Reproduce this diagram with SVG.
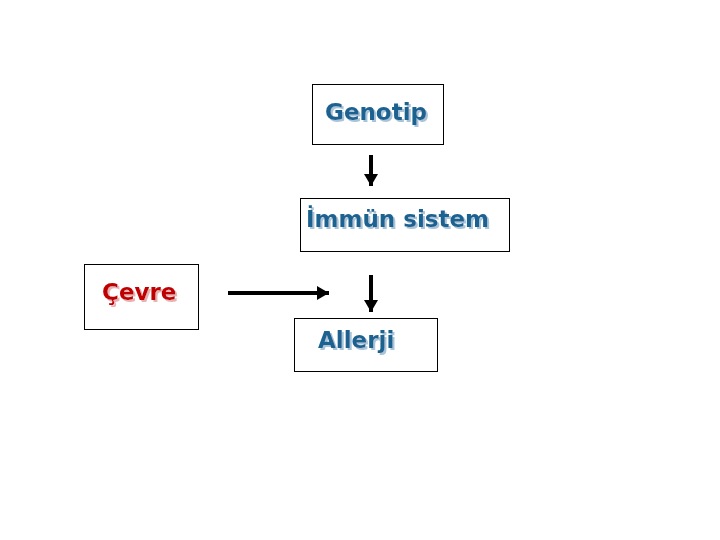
<svg xmlns="http://www.w3.org/2000/svg" width="720" height="540" viewBox="0 0 720 540">
<defs>
<style>
.box{fill:#fff;stroke:#000;stroke-width:1}
.t{font-family:"Comic Sans MS","DejaVu Sans",sans-serif;font-size:23px;font-weight:bold;fill:#1f6291;filter:url(#shb)}
.red{fill:#c00000;filter:url(#shr)}
.conn{stroke:#000;stroke-width:4;fill:none}
</style>
<filter id="shb" x="-10%" y="-30%" width="130%" height="170%">
<feDropShadow dx="2" dy="2" stdDeviation="0.6" flood-color="#a9c3d8" flood-opacity="1"/>
</filter>
<filter id="shr" x="-10%" y="-30%" width="130%" height="170%">
<feDropShadow dx="2" dy="2" stdDeviation="0.6" flood-color="#e6b3b3" flood-opacity="1"/>
</filter>
<marker id="ah" viewBox="0 0 12 14" refX="12" refY="7" markerWidth="3" markerHeight="3.5" orient="auto" markerUnits="strokeWidth">
<path d="M0,0 L12,7 L0,14 z" fill="#000"/>
</marker>
</defs>
<rect width="720" height="540" fill="#fff"/>
<g id="genotip">
<rect class="box" x="312.5" y="84.5" width="131" height="60"/>
<text class="t" x="325" y="120">Genotip</text>
</g>
<g id="immun">
<rect class="box" x="300.5" y="198.5" width="209" height="53"/>
<text class="t" x="306" y="227">İmmün sistem</text>
</g>
<g id="cevre">
<rect class="box" x="84.5" y="264.5" width="114" height="65"/>
<text class="t red" x="102" y="300">Çevre</text>
</g>
<g id="allerji">
<rect class="box" x="294.5" y="318.5" width="143" height="53"/>
<text class="t" x="318" y="348">Allerji</text>
</g>
<g id="connectors">
<line class="conn" x1="371" y1="155" x2="371" y2="186" marker-end="url(#ah)"/>
<line class="conn" x1="371" y1="275" x2="371" y2="312" marker-end="url(#ah)"/>
<line class="conn" x1="228" y1="293" x2="329" y2="293" marker-end="url(#ah)"/>
</g>
</svg>
